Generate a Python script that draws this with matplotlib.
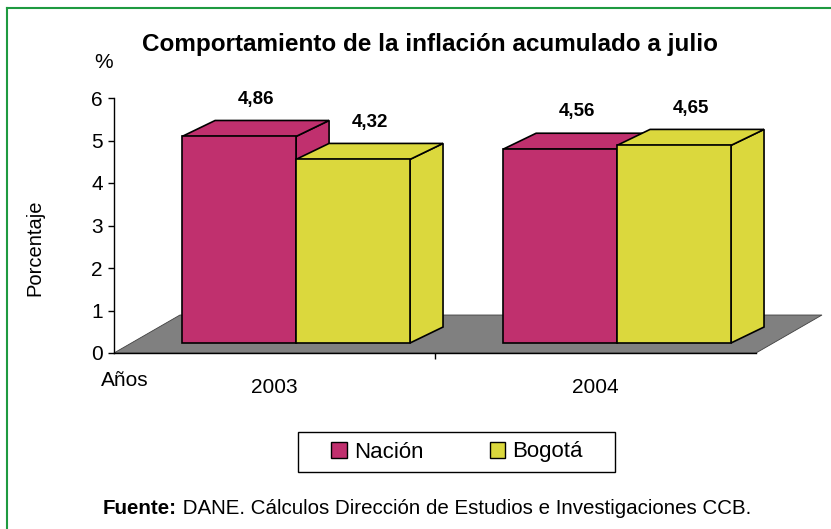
import matplotlib
matplotlib.use("Agg")
import matplotlib.pyplot as plt
from matplotlib.patches import Polygon, Patch, Rectangle

# datos del gráfico
years = ["2003", "2004"]
series = ["Nación", "Bogotá"]
nacion = [4.86, 4.56]
bogota = [4.32, 4.65]
colors = ["#C0306E", "#DBD83D"]

plt.rcParams['font.family'] = ['Liberation Sans', 'DejaVu Sans']

W, H = 831, 529
fig = plt.figure(figsize=(W / 100, H / 100), dpi=100)
fig.patch.set_facecolor("white")

# marco verde (solo arriba e izquierda visibles)
fig.add_artist(plt.Line2D([7 / W, 1], [1 - 8 / H, 1 - 8 / H], color="#1E9A40", lw=1.5))
fig.add_artist(plt.Line2D([7 / W, 7 / W], [0, 1 - 8 / H], color="#1E9A40", lw=1.5))

ax = fig.add_axes([114 / W, (H - 353) / H, 642 / W, 255 / H])
ax.set_xlim(0, 2)
ax.set_ylim(0, 6)
ax.set_facecolor("none")
for s in ["top", "right"]:
    ax.spines[s].set_visible(False)
ax.spines["left"].set_linewidth(1)
ax.spines["bottom"].set_linewidth(1)
ax.spines["bottom"].set_zorder(5)

# piso gris en perspectiva
fdx, fdy = 0.2056, 0.894
floor = Polygon([(0, 0), (2, 0), (2 + fdx, fdy), (fdx, fdy)], closed=True,
                facecolor="#808080", edgecolor="#404040", lw=0.6, zorder=1, clip_on=False)
ax.add_patch(floor)

# barras 3D
bar_w = 0.355
left_off = 0.212
y0 = 0.235
dx, dy = 0.103, 0.376
values = [nacion, bogota]
for i, yr in enumerate(years):
    for j, vals in enumerate(values):
        v = vals[i]
        x = i + left_off + j * bar_w
        c = colors[j]
        side = [(x + bar_w, y0), (x + bar_w + dx, y0 + dy),
                (x + bar_w + dx, y0 + v + dy), (x + bar_w, y0 + v)]
        top = [(x, y0 + v), (x + dx, y0 + v + dy),
               (x + bar_w + dx, y0 + v + dy), (x + bar_w, y0 + v)]
        front = [(x, y0), (x + bar_w, y0), (x + bar_w, y0 + v), (x, y0 + v)]
        for poly in (side, top, front):
            ax.add_patch(Polygon(poly, closed=True, facecolor=c, edgecolor="black",
                                 lw=1.2, zorder=2, clip_on=False))
        ax.text(x + bar_w / 2 + dx / 2, v + y0 + dy + 0.5,
                f"{v:.2f}".replace(".", ","), ha="center", va="center",
                fontsize=13.5, fontweight="bold")

# ejes
ax.set_yticks(range(7))
ax.tick_params(axis="y", length=4, width=1, pad=4, labelsize=15)
ax.set_xticks([0.5, 1.5])
ax.set_xticklabels(years)
ax.tick_params(axis="x", which="major", length=0, pad=18, labelsize=15)
ax.set_xticks([1], minor=True)
ax.tick_params(axis="x", which="minor", length=4, width=1)

fig.text(125 / W, 1 - 381 / H, "Años", ha="center", va="center", fontsize=15)
fig.text(104 / W, 1 - 62 / H, "%", ha="center", va="center", fontsize=15)
fig.text(35 / W, 1 - 248 / H, "Porcentaje", ha="center", va="center",
         rotation=90, fontsize=14.5)
fig.text(430 / W, 1 - 45 / H, "Comportamiento de la inflación acumulado a julio",
         ha="center", va="center", fontsize=17.5, fontweight="bold")

# leyenda (marco dibujado aparte)
fig.add_artist(Rectangle((298 / W, 1 - 472 / H), 317 / W, 40 / H, transform=fig.transFigure,
                         facecolor="white", edgecolor="black", lw=1))
handles = [Patch(facecolor=colors[k], edgecolor="black", lw=1) for k in range(2)]
leg = fig.legend(handles, series, loc="center", bbox_to_anchor=(457 / W, 1 - 452 / H),
                 ncol=2, frameon=False, fontsize=16,
                 handlelength=0.7, handleheight=0.7, handletextpad=0.3,
                 columnspacing=3.0, borderpad=0, borderaxespad=0)

# fuente
t1 = fig.text(103 / W, 1 - 508 / H, "Fuente:", ha="left", va="center",
              fontsize=14.8, fontweight="bold")
ax.annotate(" DANE. Cálculos Dirección de Estudios e Investigaciones CCB.",
            xy=(1, 0.5), xycoords=t1, ha="left", va="center", fontsize=14.8,
            annotation_clip=False)

fig.savefig("out.png", dpi=100)
